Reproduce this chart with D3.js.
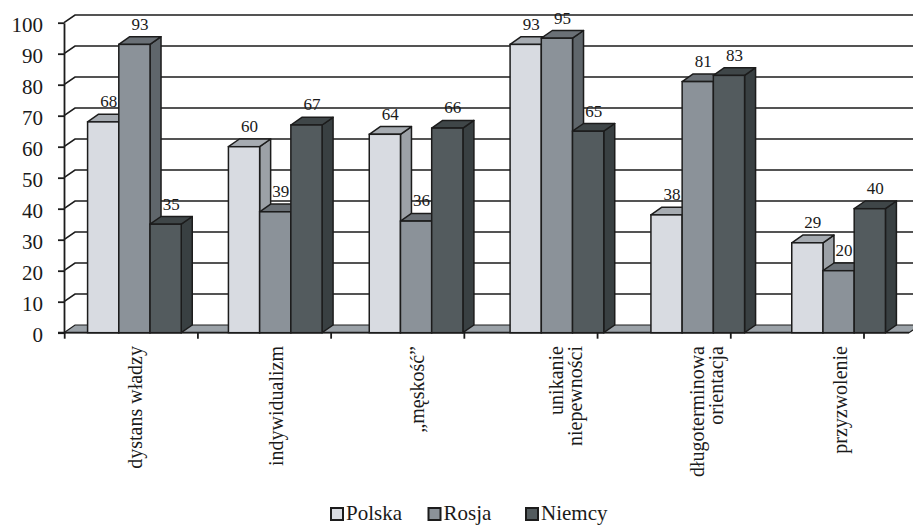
<!DOCTYPE html>
<html>
<head>
<meta charset="utf-8">
<script src="https://cdn.jsdelivr.net/npm/d3@7"></script>
</head>
<body style="margin:0">
<svg id="fig" width="913" height="525" font-family="Liberation Serif" style="font-family: 'Liberation Serif'"></svg>
<script>
// ---- data ----
const categories = ["dystans władzy", "indywidualizm", "„męskość”", "unikanie niepewności", "długoterminowa orientacja", "przyzwolenie"];
const categoryLines = [["dystans władzy"], ["indywidualizm"], ["„męskość”"], ["unikanie", "niepewności"], ["długoterminowa", "orientacja"], ["przyzwolenie"]];
const seriesNames = ["Polska", "Rosja", "Niemcy"];
const polska = [68, 60, 64, 93, 38, 29];
const rosja  = [93, 39, 36, 95, 81, 20];
const niemcy = [35, 67, 66, 65, 83, 40];
const yTicks = [0, 10, 20, 30, 40, 50, 60, 70, 80, 90, 100];

const seriesValues = [polska, rosja, niemcy];
const colors = {
  Polska: { front: "#d8dbe1", top: "#a6abb1", side: "#9ca1a7" },
  Rosja:  { front: "#8b9299", top: "#6a7076", side: "#5f666b" },
  Niemcy: { front: "#535b5e", top: "#3f4648", side: "#394042" }
};
const edge = "#1c1c1c";
const FONT = "Liberation Serif";
const TXT = "#1a1a1a";

const svg = d3.select("#fig");
const W = 913;
const left = 64, floorRight = 909, y0px = 332.7, y100px = 22.7;
const dx = 11, dy = -7.7;

const y = d3.scaleLinear().domain([0, 100]).range([y0px, y100px]);
const x0 = d3.scaleBand().domain(categories).range([left, floorRight]).paddingInner(0.335).paddingOuter(0.1675);
const x1 = d3.scaleBand().domain(seriesNames).range([0, x0.bandwidth()]);
const xTick = d3.scaleLinear().domain([0, categories.length]).range([64.7, 864]);
const legendX = d3.scalePoint().domain(seriesNames).range([330, 525]);

function serif(sel) {
  return sel.attr("font-family", FONT).style("font-family", "'Liberation Serif'").attr("fill", TXT);
}

// ---- back wall gridlines & side wall diagonals ----
const grid = svg.append("g");
yTicks.forEach(v => {
  if (v === 0) return;
  grid.append("path")
    .attr("d", `M${left},${y(v)} L${left + dx},${y(v) + dy} L${W + 5},${y(v) + dy}`)
    .attr("fill", "none").attr("stroke", edge).attr("stroke-width", 1.6);
});

// ---- floor ----
svg.append("path")
  .attr("d", `M${left},${y(0)} L${left + dx},${y(0) + dy} L${floorRight + dx},${y(0) + dy} L${floorRight},${y(0)} Z`)
  .attr("fill", "#9ba2a8").attr("stroke", edge).attr("stroke-width", 1.2);

// ---- y axis ----
const yAxis = d3.axisLeft(y).tickValues(yTicks).tickSize(6).tickPadding(15).tickSizeOuter(0);
const ya = svg.append("g").attr("transform", `translate(${left},0)`).call(yAxis);
ya.attr("font-family", FONT).style("font-family", "'Liberation Serif'");
ya.select(".domain").attr("stroke", edge).attr("stroke-width", 1.8);
ya.selectAll(".tick line").attr("stroke", edge).attr("stroke-width", 1.8);
serif(ya.selectAll(".tick text").attr("font-size", 21).attr("dy", "0.42em"));

// ---- x axis line & ticks ----
svg.append("line").attr("x1", left - 6).attr("x2", floorRight).attr("y1", y(0)).attr("y2", y(0))
  .attr("stroke", edge).attr("stroke-width", 1.8);
svg.append("g").selectAll("line").data(d3.range(categories.length + 1)).join("line")
  .attr("x1", d => xTick(d)).attr("x2", d => xTick(d))
  .attr("y1", y(0)).attr("y2", y(0) + 6)
  .attr("stroke", edge).attr("stroke-width", 1.8);

// ---- bars ----
const bars = svg.append("g");
categories.forEach((cat, ci) => {
  seriesNames.forEach((s, si) => {
    const v = seriesValues[si][ci];
    const bx = x0(cat) + x1(s), bw = x1.bandwidth();
    const yt = y(v), yb = y(0);
    const c = colors[s];
    const g = bars.append("g");
    g.append("path")
      .attr("d", `M${bx + bw},${yt} L${bx + bw + dx},${yt + dy} L${bx + bw + dx},${yb + dy} L${bx + bw},${yb} Z`)
      .attr("fill", c.side).attr("stroke", edge).attr("stroke-width", 1.5).attr("stroke-linejoin", "round");
    g.append("path")
      .attr("d", `M${bx},${yt} L${bx + dx},${yt + dy} L${bx + bw + dx},${yt + dy} L${bx + bw},${yt} Z`)
      .attr("fill", c.top).attr("stroke", edge).attr("stroke-width", 1.5).attr("stroke-linejoin", "round");
    g.append("rect")
      .attr("x", bx).attr("y", yt).attr("width", bw).attr("height", yb - yt)
      .attr("fill", c.front).attr("stroke", edge).attr("stroke-width", 1.5);
    serif(g.append("text"))
      .attr("x", bx + bw / 2 + dx / 2).attr("y", yt + dy - 7)
      .attr("text-anchor", "middle").attr("font-size", 17)
      .text(v);
  });
});

// ---- category labels ----
const catG = svg.append("g");
categories.forEach((cat, ci) => {
  const lines = categoryLines[ci];
  const cx = x0(cat) + x0.bandwidth() / 2 + 1 + (lines.length > 1 ? 8 : 0);
  const lh = 19;
  const t = serif(catG.append("text"))
    .attr("transform", `translate(${cx},346) rotate(-90)`)
    .attr("text-anchor", "end").attr("font-size", 20);
  lines.forEach((ln, li) => {
    const off = (li - (lines.length - 1) / 2) * lh;
    t.append("tspan").attr("x", 0).attr("y", off).attr("dy", "0.35em").text(ln);
  });
});

// ---- legend ----
const legend = svg.append("g").attr("transform", "translate(0,520)");
seriesNames.forEach(s => {
  const g = legend.append("g").attr("transform", `translate(${legendX(s)},0)`);
  g.append("rect").attr("x", 1).attr("y", -12).attr("width", 12).attr("height", 12)
    .attr("fill", colors[s].front).attr("stroke", edge).attr("stroke-width", 2);
  serif(g.append("text")).attr("x", 16).attr("y", 0).attr("font-size", 21).text(s);
});
</script>
</body>
</html>
